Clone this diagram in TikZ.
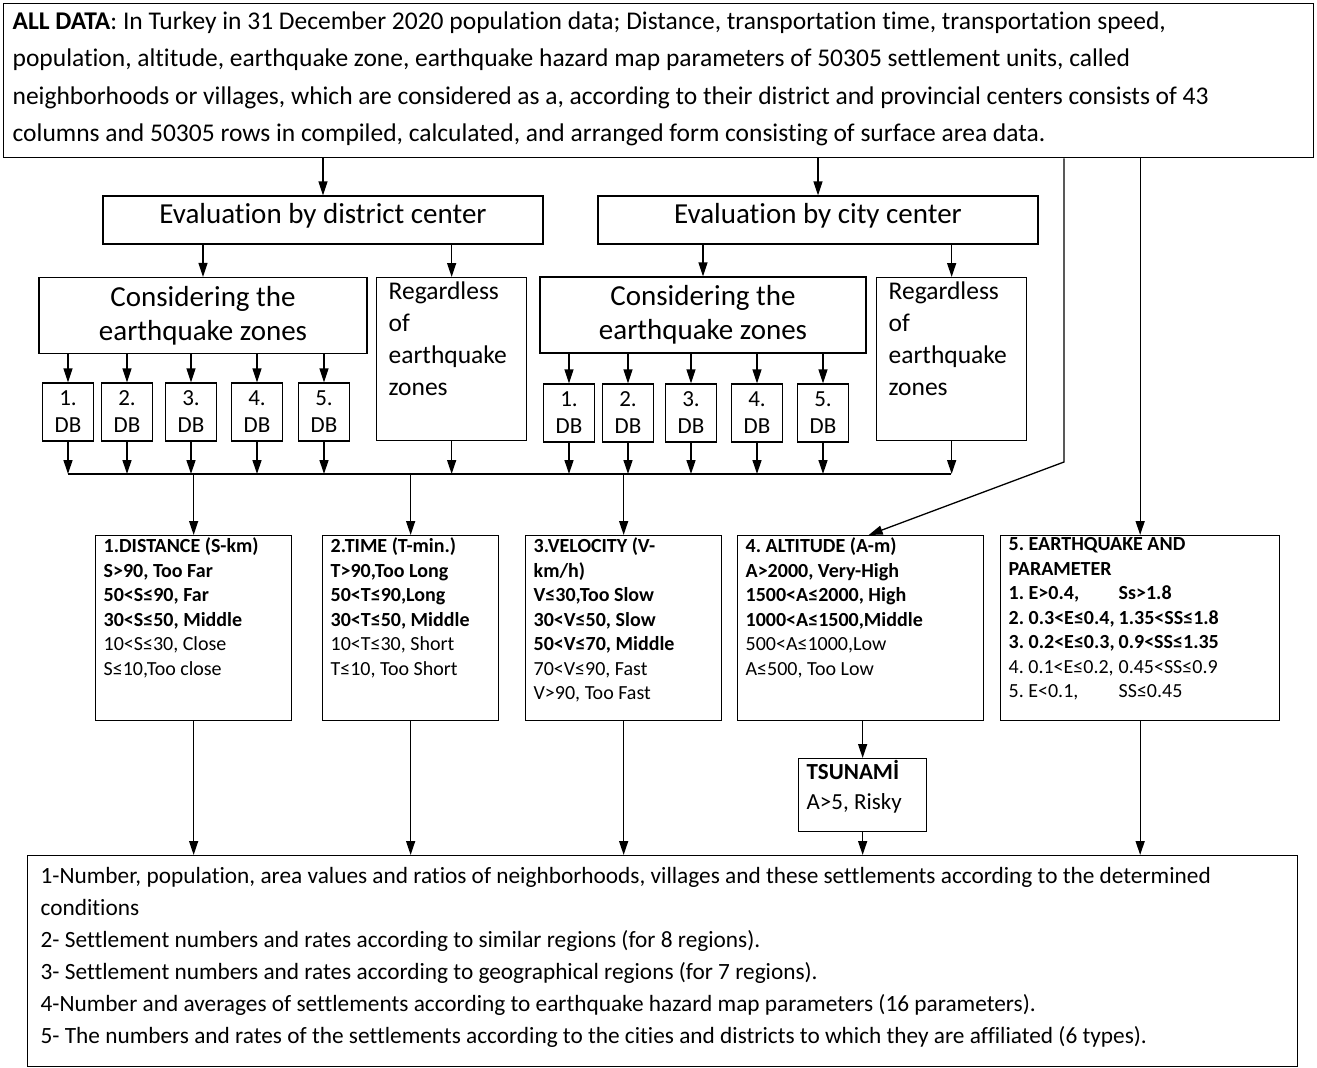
\documentclass[tikz,border=0pt]{standalone}
\usepackage{fontspec}
\setmainfont{Carlito}[Ligatures=NoCommon]
\usetikzlibrary{arrows.meta, positioning}
\newcommand{\topbox}[3]{\begin{minipage}[t][#1][t]{#2}#3\end{minipage}}
\newcommand{\colA}[1]{\makebox[5.5em][l]{#1}}
\frenchspacing

\begin{document}
\begin{tikzpicture}[x=1pt, y=-1pt,
  >={Triangle[length=14pt, width=9pt]},
  line width=1.3pt,
  box/.style={draw, line width=1.3pt, inner sep=0pt},
  evalbox/.style={box, minimum width=440pt, minimum height=48pt, font=\fontsize{29}{34}\selectfont, text height=19pt, text depth=12pt},
  zonebox/.style={box, align=center, minimum height=76pt, font=\fontsize{29}{34}\selectfont},
  dbbox/.style={box, minimum width=51pt, minimum height=58pt, align=center, font=\fontsize{23}{27}\selectfont},
  textbox/.style={box, anchor=north west, inner xsep=8pt, inner ysep=2pt},
  critfont/.style={font=\fontsize{20}{24.5}\selectfont}
]
\useasboundingbox (0,0) rectangle (1317,1068);
% all data
\node[textbox, inner xsep=9pt, inner ysep=8pt, font=\fontsize{25.5}{37.5}\selectfont] (all) at (3,3)
  {\topbox{138pt}{1292pt}{\textbf{ALL DATA}: In Turkey in 31 December 2020 population data; Distance, transportation time, transportation speed,\\
  population, altitude, earthquake zone, earthquake hazard map parameters of 50305 settlement units, called\\
  neighborhoods or villages, which are considered as a, according to their district and provincial centers consists of 43\\
  columns and 50305 rows in compiled, calculated, and arranged form consisting of surface area data.}};
% evaluation
\node[evalbox] (evdist) at (323,220) {Evaluation by district center};
\node[evalbox] (evcity) at (818,220) {Evaluation by city center};
\node[zonebox, minimum width=328pt] (consd) at (203,315.5) {Considering the\\earthquake zones};
\node[zonebox, minimum width=326pt] (consc) at (703,315) {Considering the\\earthquake zones};
\node[textbox, inner xsep=12pt, inner ysep=4pt, font=\fontsize{25.5}{32}\selectfont] (regd) at (376,277)
  {\topbox{155pt}{126pt}{Regardless\\of\\earthquake\\zones}};
\node[textbox, inner xsep=12pt, inner ysep=4pt, font=\fontsize{25.5}{32}\selectfont] (regc) at (876,277)
  {\topbox{155pt}{126pt}{Regardless\\of\\earthquake\\zones}};
% zone boxes
\foreach \i/\x in {1/68,2/127,3/191,4/257,5/324}
  \node[dbbox] (dbd\i) at (\x,412) {\i.\\DB};
\foreach \i/\x in {1/569,2/628,3/691,4/757,5/823}
  \node[dbbox] (dbc\i) at (\x,413) {\i.\\DB};
% criteria
\node[textbox, critfont] (dist) at (95,535) {\topbox{181pt}{180pt}{\textbf{1.DISTANCE (S-km)}\\
  \textbf{S>90, Too Far}\\\textbf{50<S≤90, Far}\\\textbf{30<S≤50, Middle}\\10<S≤30, Close\\S≤10,Too close}};
\node[textbox, critfont] (time) at (322,535) {\topbox{181pt}{160pt}{\textbf{2.TIME (T-min.)}\\
  \textbf{T>90,Too Long}\\\textbf{50<T≤90,Long}\\\textbf{30<T≤50, Middle}\\10<T≤30, Short\\T≤10, Too Short}};
\node[textbox, critfont] (velo) at (525,535) {\topbox{181pt}{180pt}{\textbf{3.VELOCITY (V-}\\\textbf{km/h)}\\
  \textbf{V≤30,Too Slow}\\\textbf{30<V≤50, Slow}\\\textbf{50<V≤70, Middle}\\70<V≤90, Fast\\V>90, Too Fast}};
\node[textbox, critfont] (alt) at (737,535) {\topbox{181pt}{230pt}{\textbf{4. ALTITUDE (A-m)}\\
  \textbf{A>2000, Very-High}\\\textbf{1500<A≤2000, High}\\\textbf{1000<A≤1500,Middle}\\500<A≤1000,Low\\A≤500, Too Low}};
\node[textbox, critfont] (eq) at (1000,535) {\topbox{181pt}{263pt}{\textbf{5. EARTHQUAKE AND}\\\textbf{PARAMETER}\\
  \textbf{\colA{1. E>0.4,}Ss>1.8}\\\textbf{\colA{2. 0.3<E≤0.4,}1.35<SS≤1.8}\\\textbf{\colA{3. 0.2<E≤0.3,}0.9<SS≤1.35}\\
  \colA{4. 0.1<E≤0.2,}0.45<SS≤0.9\\\colA{5. E<0.1,}SS≤0.45}};
\node[textbox, font=\fontsize{23}{30}\selectfont] (tsu) at (798,758) {\topbox{69pt}{112pt}{\textbf{TSUNAMİ}\\A>5, Risky}};
% results
\node[textbox, inner xsep=13pt, inner ysep=12pt, font=\fontsize{23.3}{32}\selectfont] (res) at (27,855)
  {\topbox{187pt}{1244pt}{1-Number, population, area values and ratios of neighborhoods, villages and these settlements according to the determined\\
  conditions\\
  2- Settlement numbers and rates according to similar regions (for 8 regions).\\
  3- Settlement numbers and rates according to geographical regions (for 7 regions).\\
  4-Number and averages of settlements according to earthquake hazard map parameters (16 parameters).\\
  5- The numbers and rates of the settlements according to the cities and districts to which they are affiliated (6 types).}};
% connectors
\coordinate (busl) at (68,474);
\coordinate (busr) at (951,474);
\coordinate (bend) at (1064,462);
\draw[->] (evdist |- all.south) -- (evdist.north);
\draw[->] (evcity |- all.south) -- (evcity.north);
\draw[->] (consd |- evdist.south) -- (consd.north);
\draw[->] (regd.north |- evdist.south) -- (regd.north);
\draw[->] (consc |- evcity.south) -- (consc.north);
\draw[->] (regc.north |- evcity.south) -- (regc.north);
\foreach \i in {1,...,5} {
  \draw[->] (dbd\i |- consd.south) -- (dbd\i.north);
  \draw[->] (dbd\i.south) -- (dbd\i |- busl);
  \draw[->] (dbc\i |- consc.south) -- (dbc\i.north);
  \draw[->] (dbc\i.south) -- (dbc\i |- busl);
}
\draw[->] (regd.south) -- (regd.south |- busl);
\draw[->] (regc.south) -- (regc.south |- busl);
\draw (busl) -- (busr);
\draw[->] (dist.north |- busl) -- (dist.north);
\draw[->] (time.north |- busl) -- (time.north);
\draw[->] (velo.north |- busl) -- (velo.north);
\draw[->] (bend |- all.south) -- (bend) -- ([xshift=8pt]alt.north);
\draw[->] (eq.north |- all.south) -- (eq.north);
\draw[->] (alt.south -| tsu.north) -- (tsu.north);
\draw[->] (tsu.south) -- (tsu.south |- res.north);
\draw[->] (dist.south) -- (dist.south |- res.north);
\draw[->] (time.south) -- (time.south |- res.north);
\draw[->] (velo.south) -- (velo.south |- res.north);
\draw[->] (eq.south) -- (eq.south |- res.north);
\end{tikzpicture}
\end{document}
